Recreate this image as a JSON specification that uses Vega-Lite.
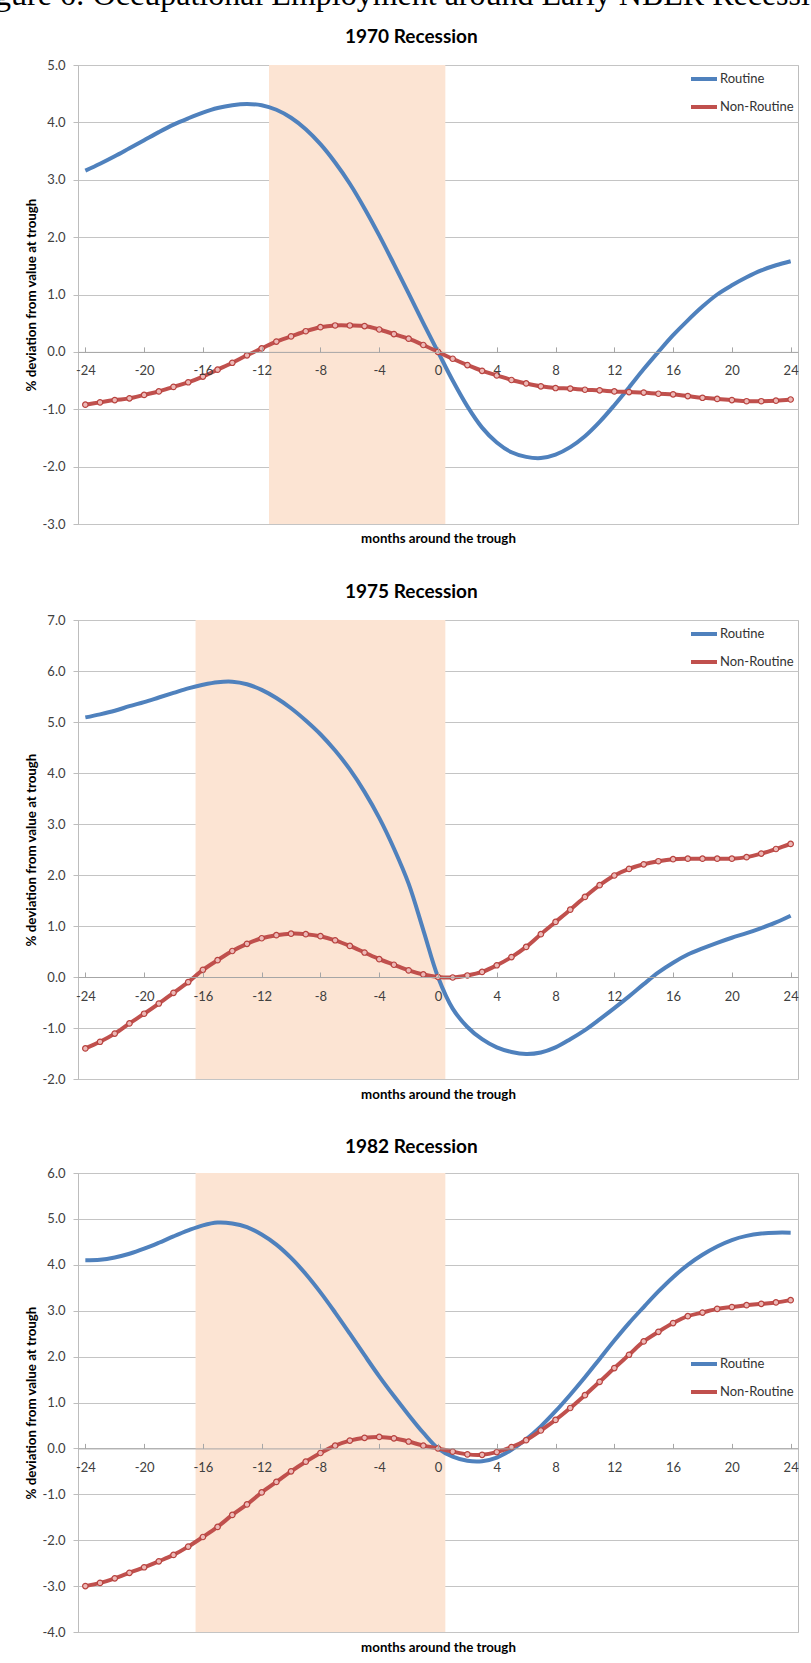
{
  "$schema": "https://vega.github.io/schema/vega-lite/v6.json",
  "padding": {"left": -32, "top": -22, "right": 0, "bottom": 0},
  "title": {
    "text": "Figure 6: Occupational Employment around Early NBER Recessions",
    "font": "Liberation Serif",
    "fontSize": 32,
    "fontWeight": "normal",
    "anchor": "middle",
    "frame": "bounds",
    "offset": 16
  },
  "datasets": {
    "p1970": [
      {"month": -24, "Routine": 3.16, "Non-Routine": -0.92},
      {"month": -23, "Routine": 3.28, "Non-Routine": -0.88},
      {"month": -22, "Routine": 3.41, "Non-Routine": -0.84},
      {"month": -21, "Routine": 3.55, "Non-Routine": -0.81},
      {"month": -20, "Routine": 3.69, "Non-Routine": -0.75},
      {"month": -19, "Routine": 3.83, "Non-Routine": -0.69},
      {"month": -18, "Routine": 3.96, "Non-Routine": -0.61},
      {"month": -17, "Routine": 4.07, "Non-Routine": -0.53},
      {"month": -16, "Routine": 4.17, "Non-Routine": -0.43},
      {"month": -15, "Routine": 4.25, "Non-Routine": -0.31},
      {"month": -14, "Routine": 4.30, "Non-Routine": -0.19},
      {"month": -13, "Routine": 4.32, "Non-Routine": -0.06},
      {"month": -12, "Routine": 4.30, "Non-Routine": 0.06},
      {"month": -11, "Routine": 4.22, "Non-Routine": 0.18},
      {"month": -10, "Routine": 4.08, "Non-Routine": 0.27},
      {"month": -9, "Routine": 3.88, "Non-Routine": 0.36},
      {"month": -8, "Routine": 3.62, "Non-Routine": 0.43},
      {"month": -7, "Routine": 3.30, "Non-Routine": 0.46},
      {"month": -6, "Routine": 2.93, "Non-Routine": 0.46},
      {"month": -5, "Routine": 2.50, "Non-Routine": 0.45},
      {"month": -4, "Routine": 2.03, "Non-Routine": 0.39},
      {"month": -3, "Routine": 1.53, "Non-Routine": 0.31},
      {"month": -2, "Routine": 1.02, "Non-Routine": 0.23},
      {"month": -1, "Routine": 0.50, "Non-Routine": 0.12},
      {"month": 0, "Routine": 0.00, "Non-Routine": 0.00},
      {"month": 1, "Routine": -0.50, "Non-Routine": -0.12},
      {"month": 2, "Routine": -0.95, "Non-Routine": -0.23},
      {"month": 3, "Routine": -1.32, "Non-Routine": -0.33},
      {"month": 4, "Routine": -1.58, "Non-Routine": -0.41},
      {"month": 5, "Routine": -1.75, "Non-Routine": -0.49},
      {"month": 6, "Routine": -1.83, "Non-Routine": -0.55},
      {"month": 7, "Routine": -1.85, "Non-Routine": -0.60},
      {"month": 8, "Routine": -1.79, "Non-Routine": -0.63},
      {"month": 9, "Routine": -1.66, "Non-Routine": -0.64},
      {"month": 10, "Routine": -1.47, "Non-Routine": -0.66},
      {"month": 11, "Routine": -1.22, "Non-Routine": -0.67},
      {"month": 12, "Routine": -0.93, "Non-Routine": -0.69},
      {"month": 13, "Routine": -0.62, "Non-Routine": -0.70},
      {"month": 14, "Routine": -0.30, "Non-Routine": -0.71},
      {"month": 15, "Routine": 0.00, "Non-Routine": -0.73},
      {"month": 16, "Routine": 0.29, "Non-Routine": -0.74},
      {"month": 17, "Routine": 0.55, "Non-Routine": -0.77},
      {"month": 18, "Routine": 0.79, "Non-Routine": -0.80},
      {"month": 19, "Routine": 1.00, "Non-Routine": -0.82},
      {"month": 20, "Routine": 1.16, "Non-Routine": -0.84},
      {"month": 21, "Routine": 1.30, "Non-Routine": -0.86},
      {"month": 22, "Routine": 1.42, "Non-Routine": -0.86},
      {"month": 23, "Routine": 1.51, "Non-Routine": -0.85},
      {"month": 24, "Routine": 1.58, "Non-Routine": -0.83}
    ],
    "p1975": [
      {"month": -24, "Routine": 5.09, "Non-Routine": -1.40},
      {"month": -23, "Routine": 5.15, "Non-Routine": -1.27},
      {"month": -22, "Routine": 5.22, "Non-Routine": -1.11},
      {"month": -21, "Routine": 5.31, "Non-Routine": -0.91},
      {"month": -20, "Routine": 5.39, "Non-Routine": -0.72},
      {"month": -19, "Routine": 5.48, "Non-Routine": -0.52},
      {"month": -18, "Routine": 5.57, "Non-Routine": -0.31},
      {"month": -17, "Routine": 5.66, "Non-Routine": -0.10},
      {"month": -16, "Routine": 5.73, "Non-Routine": 0.14},
      {"month": -15, "Routine": 5.78, "Non-Routine": 0.33},
      {"month": -14, "Routine": 5.79, "Non-Routine": 0.51},
      {"month": -13, "Routine": 5.74, "Non-Routine": 0.65},
      {"month": -12, "Routine": 5.63, "Non-Routine": 0.76},
      {"month": -11, "Routine": 5.47, "Non-Routine": 0.82},
      {"month": -10, "Routine": 5.27, "Non-Routine": 0.85},
      {"month": -9, "Routine": 5.03, "Non-Routine": 0.84},
      {"month": -8, "Routine": 4.76, "Non-Routine": 0.80},
      {"month": -7, "Routine": 4.44, "Non-Routine": 0.72},
      {"month": -6, "Routine": 4.07, "Non-Routine": 0.61},
      {"month": -5, "Routine": 3.63, "Non-Routine": 0.48},
      {"month": -4, "Routine": 3.12, "Non-Routine": 0.35},
      {"month": -3, "Routine": 2.52, "Non-Routine": 0.24},
      {"month": -2, "Routine": 1.83, "Non-Routine": 0.13},
      {"month": -1, "Routine": 0.92, "Non-Routine": 0.05},
      {"month": 0, "Routine": 0.00, "Non-Routine": 0.00},
      {"month": 1, "Routine": -0.62, "Non-Routine": -0.01},
      {"month": 2, "Routine": -0.98, "Non-Routine": 0.03},
      {"month": 3, "Routine": -1.22, "Non-Routine": 0.10},
      {"month": 4, "Routine": -1.38, "Non-Routine": 0.23},
      {"month": 5, "Routine": -1.47, "Non-Routine": 0.39},
      {"month": 6, "Routine": -1.51, "Non-Routine": 0.59},
      {"month": 7, "Routine": -1.48, "Non-Routine": 0.84},
      {"month": 8, "Routine": -1.38, "Non-Routine": 1.08},
      {"month": 9, "Routine": -1.22, "Non-Routine": 1.32},
      {"month": 10, "Routine": -1.04, "Non-Routine": 1.57},
      {"month": 11, "Routine": -0.83, "Non-Routine": 1.80},
      {"month": 12, "Routine": -0.61, "Non-Routine": 1.99},
      {"month": 13, "Routine": -0.38, "Non-Routine": 2.12},
      {"month": 14, "Routine": -0.14, "Non-Routine": 2.21},
      {"month": 15, "Routine": 0.09, "Non-Routine": 2.27},
      {"month": 16, "Routine": 0.28, "Non-Routine": 2.31},
      {"month": 17, "Routine": 0.44, "Non-Routine": 2.32},
      {"month": 18, "Routine": 0.56, "Non-Routine": 2.32},
      {"month": 19, "Routine": 0.67, "Non-Routine": 2.32},
      {"month": 20, "Routine": 0.77, "Non-Routine": 2.32},
      {"month": 21, "Routine": 0.86, "Non-Routine": 2.35},
      {"month": 22, "Routine": 0.96, "Non-Routine": 2.42},
      {"month": 23, "Routine": 1.07, "Non-Routine": 2.51},
      {"month": 24, "Routine": 1.20, "Non-Routine": 2.61}
    ],
    "p1982": [
      {"month": -24, "Routine": 4.10, "Non-Routine": -3.00},
      {"month": -23, "Routine": 4.11, "Non-Routine": -2.93},
      {"month": -22, "Routine": 4.16, "Non-Routine": -2.83},
      {"month": -21, "Routine": 4.24, "Non-Routine": -2.71},
      {"month": -20, "Routine": 4.35, "Non-Routine": -2.59},
      {"month": -19, "Routine": 4.48, "Non-Routine": -2.46},
      {"month": -18, "Routine": 4.62, "Non-Routine": -2.32},
      {"month": -17, "Routine": 4.75, "Non-Routine": -2.14},
      {"month": -16, "Routine": 4.86, "Non-Routine": -1.93},
      {"month": -15, "Routine": 4.92, "Non-Routine": -1.71},
      {"month": -14, "Routine": 4.90, "Non-Routine": -1.45},
      {"month": -13, "Routine": 4.82, "Non-Routine": -1.22},
      {"month": -12, "Routine": 4.66, "Non-Routine": -0.96},
      {"month": -11, "Routine": 4.44, "Non-Routine": -0.73},
      {"month": -10, "Routine": 4.15, "Non-Routine": -0.50},
      {"month": -9, "Routine": 3.80, "Non-Routine": -0.29},
      {"month": -8, "Routine": 3.40, "Non-Routine": -0.10},
      {"month": -7, "Routine": 2.96, "Non-Routine": 0.06},
      {"month": -6, "Routine": 2.50, "Non-Routine": 0.17},
      {"month": -5, "Routine": 2.03, "Non-Routine": 0.23},
      {"month": -4, "Routine": 1.57, "Non-Routine": 0.25},
      {"month": -3, "Routine": 1.14, "Non-Routine": 0.22},
      {"month": -2, "Routine": 0.73, "Non-Routine": 0.15},
      {"month": -1, "Routine": 0.34, "Non-Routine": 0.06},
      {"month": 0, "Routine": 0.00, "Non-Routine": 0.00},
      {"month": 1, "Routine": -0.18, "Non-Routine": -0.07},
      {"month": 2, "Routine": -0.27, "Non-Routine": -0.13},
      {"month": 3, "Routine": -0.28, "Non-Routine": -0.14},
      {"month": 4, "Routine": -0.20, "Non-Routine": -0.08},
      {"month": 5, "Routine": -0.03, "Non-Routine": 0.03},
      {"month": 6, "Routine": 0.20, "Non-Routine": 0.18},
      {"month": 7, "Routine": 0.48, "Non-Routine": 0.39},
      {"month": 8, "Routine": 0.81, "Non-Routine": 0.62},
      {"month": 9, "Routine": 1.17, "Non-Routine": 0.88},
      {"month": 10, "Routine": 1.55, "Non-Routine": 1.16},
      {"month": 11, "Routine": 1.95, "Non-Routine": 1.45},
      {"month": 12, "Routine": 2.35, "Non-Routine": 1.75},
      {"month": 13, "Routine": 2.73, "Non-Routine": 2.04},
      {"month": 14, "Routine": 3.08, "Non-Routine": 2.33},
      {"month": 15, "Routine": 3.42, "Non-Routine": 2.54},
      {"month": 16, "Routine": 3.73, "Non-Routine": 2.73},
      {"month": 17, "Routine": 4.00, "Non-Routine": 2.88},
      {"month": 18, "Routine": 4.22, "Non-Routine": 2.96},
      {"month": 19, "Routine": 4.40, "Non-Routine": 3.04},
      {"month": 20, "Routine": 4.54, "Non-Routine": 3.08},
      {"month": 21, "Routine": 4.63, "Non-Routine": 3.12},
      {"month": 22, "Routine": 4.68, "Non-Routine": 3.15},
      {"month": 23, "Routine": 4.70, "Non-Routine": 3.18},
      {"month": 24, "Routine": 4.70, "Non-Routine": 3.23}
    ]
  },
  "vconcat": [
    {
      "title": "1970 Recession",
      "width": 720,
      "height": 459,
      "data": {"name": "p1970"},
      "layer": [
        {
          "data": {"values": [{"start": -11.5, "end": 0.5}]},
          "mark": {"type": "rect", "color": "#FCE4D3"},
          "encoding": {
            "x": {
              "field": "start", "type": "quantitative",
              "scale": {"domain": [-24.5, 24.5], "nice": false, "zero": false},
              "title": "months around the trough",
              "axis": {
                "offset": -172.1, "titleY": 187, "titleBaseline": "middle",
                "values": [-24, -23, -22, -21, -20, -19, -18, -17, -16, -15, -14, -13, -12, -11, -10, -9, -8, -7, -6, -5, -4, -3, -2, -1, 0, 1, 2, 3, 4, 5, 6, 7, 8, 9, 10, 11, 12, 13, 14, 15, 16, 17, 18, 19, 20, 21, 22, 23, 24],
                "labelExpr": "datum.value % 4 == 0 ? '' + datum.value : ''",
                "tickSize": -5, "labelPadding": 18, "labelFlush": false, "labelOverlap": false,
                "grid": false, "zindex": 1, "domainColor": "#a6a6a6", "tickColor": "#a6a6a6"
              }
            },
            "x2": {"field": "end"}
          }
        },
        {
          "transform": [{"fold": ["Routine", "Non-Routine"], "as": ["series", "value"]}],
          "mark": {"type": "line", "interpolate": "catmull-rom", "strokeWidth": 4},
          "encoding": {
            "x": {"field": "month", "type": "quantitative", "title": "months around the trough"},
            "y": {
              "field": "value", "type": "quantitative",
              "scale": {"domain": [-3, 5], "nice": false},
              "title": "% deviation from value at trough",
              "axis": {"values": [-3, -2, -1, 0, 1, 2, 3, 4, 5], "labelExpr": "replace(format(datum.value, '.1f'), '\u2212', '-')"}
            },
            "color": {
              "field": "series", "type": "nominal",
              "scale": {"domain": ["Routine", "Non-Routine"], "range": ["#4F81BD", "#C0504D"]},
              "legend": {"orient": "none", "legendX": 611, "legendY": -1}
            }
          }
        },
        {
          "transform": [{"fold": ["Non-Routine"], "as": ["series", "value"]}],
          "mark": {"type": "point", "filled": true, "fill": "#EDB9B7", "stroke": "#B8433F", "strokeWidth": 1.2, "size": 30, "opacity": 1},
          "encoding": {
            "x": {"field": "month", "type": "quantitative", "title": "months around the trough"},
            "y": {"field": "value", "type": "quantitative", "title": "% deviation from value at trough"}
          }
        }
      ]
    },
    {
      "title": "1975 Recession",
      "width": 720,
      "height": 459,
      "data": {"name": "p1975"},
      "layer": [
        {
          "data": {"values": [{"start": -16.5, "end": 0.5}]},
          "mark": {"type": "rect", "color": "#FCE4D3"},
          "encoding": {
            "x": {
              "field": "start", "type": "quantitative",
              "scale": {"domain": [-24.5, 24.5], "nice": false, "zero": false},
              "title": "months around the trough",
              "axis": {
                "offset": -102, "titleY": 117, "titleBaseline": "middle",
                "values": [-24, -23, -22, -21, -20, -19, -18, -17, -16, -15, -14, -13, -12, -11, -10, -9, -8, -7, -6, -5, -4, -3, -2, -1, 0, 1, 2, 3, 4, 5, 6, 7, 8, 9, 10, 11, 12, 13, 14, 15, 16, 17, 18, 19, 20, 21, 22, 23, 24],
                "labelExpr": "datum.value % 4 == 0 ? '' + datum.value : ''",
                "tickSize": -5, "labelPadding": 18, "labelFlush": false, "labelOverlap": false,
                "grid": false, "zindex": 1, "domainColor": "#a6a6a6", "tickColor": "#a6a6a6"
              }
            },
            "x2": {"field": "end"}
          }
        },
        {
          "transform": [{"fold": ["Routine", "Non-Routine"], "as": ["series", "value"]}],
          "mark": {"type": "line", "interpolate": "catmull-rom", "strokeWidth": 4},
          "encoding": {
            "x": {"field": "month", "type": "quantitative", "title": "months around the trough"},
            "y": {
              "field": "value", "type": "quantitative",
              "scale": {"domain": [-2, 7], "nice": false},
              "title": "% deviation from value at trough",
              "axis": {"values": [-2, -1, 0, 1, 2, 3, 4, 5, 6, 7], "labelExpr": "replace(format(datum.value, '.1f'), '\u2212', '-')"}
            },
            "color": {
              "field": "series", "type": "nominal",
              "scale": {"domain": ["Routine", "Non-Routine"], "range": ["#4F81BD", "#C0504D"]},
              "legend": {"orient": "none", "legendX": 611, "legendY": -1}
            }
          }
        },
        {
          "transform": [{"fold": ["Non-Routine"], "as": ["series", "value"]}],
          "mark": {"type": "point", "filled": true, "fill": "#EDB9B7", "stroke": "#B8433F", "strokeWidth": 1.2, "size": 30, "opacity": 1},
          "encoding": {
            "x": {"field": "month", "type": "quantitative", "title": "months around the trough"},
            "y": {"field": "value", "type": "quantitative", "title": "% deviation from value at trough"}
          }
        }
      ]
    },
    {
      "title": {"text": "1982 Recession", "offset": 10},
      "width": 720,
      "height": 459,
      "data": {"name": "p1982"},
      "layer": [
        {
          "data": {"values": [{"start": -16.5, "end": 0.5}]},
          "mark": {"type": "rect", "color": "#FCE4D3"},
          "encoding": {
            "x": {
              "field": "start", "type": "quantitative",
              "scale": {"domain": [-24.5, 24.5], "nice": false, "zero": false},
              "title": "months around the trough",
              "axis": {
                "offset": -183.6, "titleY": 198.6, "titleBaseline": "middle",
                "values": [-24, -23, -22, -21, -20, -19, -18, -17, -16, -15, -14, -13, -12, -11, -10, -9, -8, -7, -6, -5, -4, -3, -2, -1, 0, 1, 2, 3, 4, 5, 6, 7, 8, 9, 10, 11, 12, 13, 14, 15, 16, 17, 18, 19, 20, 21, 22, 23, 24],
                "labelExpr": "datum.value % 4 == 0 ? '' + datum.value : ''",
                "tickSize": -5, "labelPadding": 18, "labelFlush": false, "labelOverlap": false,
                "grid": false, "zindex": 1, "domainColor": "#a6a6a6", "tickColor": "#a6a6a6"
              }
            },
            "x2": {"field": "end"}
          }
        },
        {
          "transform": [{"fold": ["Routine", "Non-Routine"], "as": ["series", "value"]}],
          "mark": {"type": "line", "interpolate": "catmull-rom", "strokeWidth": 4},
          "encoding": {
            "x": {"field": "month", "type": "quantitative", "title": "months around the trough"},
            "y": {
              "field": "value", "type": "quantitative",
              "scale": {"domain": [-4, 6], "nice": false},
              "title": "% deviation from value at trough",
              "axis": {"values": [-4, -3, -2, -1, 0, 1, 2, 3, 4, 5, 6], "labelExpr": "replace(format(datum.value, '.1f'), '\u2212', '-')"}
            },
            "color": {
              "field": "series", "type": "nominal",
              "scale": {"domain": ["Routine", "Non-Routine"], "range": ["#4F81BD", "#C0504D"]},
              "legend": {"orient": "none", "legendX": 611, "legendY": 176}
            }
          }
        },
        {
          "transform": [{"fold": ["Non-Routine"], "as": ["series", "value"]}],
          "mark": {"type": "point", "filled": true, "fill": "#EDB9B7", "stroke": "#B8433F", "strokeWidth": 1.2, "size": 30, "opacity": 1},
          "encoding": {
            "x": {"field": "month", "type": "quantitative", "title": "months around the trough"},
            "y": {"field": "value", "type": "quantitative", "title": "% deviation from value at trough"}
          }
        }
      ]
    }
  ],
  "spacing": 36,
  "resolve": {"legend": {"color": "independent"}},
  "config": {
    "font": "Lato",
    "view": {"stroke": "#bdbdbd"},
    "title": {"font": "Lato", "fontSize": 19, "fontWeight": "bold", "color": "#000", "frame": "bounds", "anchor": "middle", "offset": 12},
    "axis": {
      "labelFont": "Lato", "labelFontSize": 13, "labelColor": "#404040",
      "titleFont": "Lato", "titleFontSize": 13.3, "titleFontWeight": "bold", "titleColor": "#000",
      "domainColor": "#bdbdbd", "tickColor": "#bdbdbd", "gridColor": "#c4c4c4"
    },
    "axisY": {"tickSize": 5, "labelPadding": 8, "titlePadding": 4},
    "legend": {
      "title": null, "symbolType": "stroke", "symbolSize": 676, "symbolStrokeWidth": 4,
      "labelFont": "Lato", "labelFontSize": 13, "labelColor": "#333", "rowPadding": 5, "labelOffset": 1
    }
  }
}
